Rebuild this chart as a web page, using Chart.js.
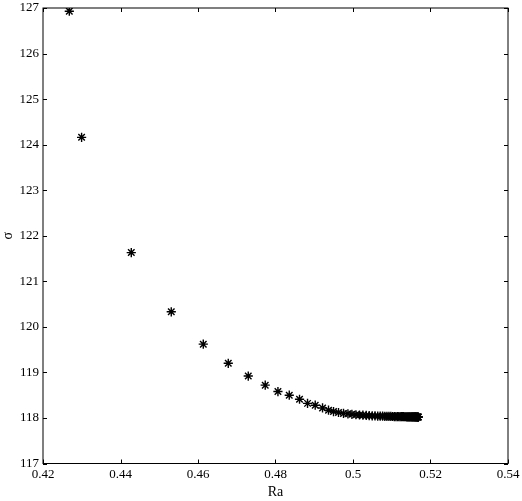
<!DOCTYPE html>
<html>
<head>
<meta charset="utf-8">
<script src="https://cdn.jsdelivr.net/npm/chart.js@4.4.0/dist/chart.umd.min.js"></script>
<style>
  html, body { margin: 0; padding: 0; background: #fff; }
  canvas { display: block; }
</style>
</head>
<body>
<canvas id="chart" width="522" height="501"></canvas>
<script>
// Ra values
const ra = [
  0.42679, 0.42996, 0.44278, 0.4531, 0.46136, 0.46781, 0.47297, 0.47735,
  0.48063, 0.48355, 0.4862, 0.48827, 0.49025, 0.49214, 0.49368, 0.49497,
  0.49626, 0.49755, 0.49869, 0.49972, 0.50075, 0.50168, 0.50256, 0.50341,
  0.50418, 0.50496, 0.50568, 0.50638, 0.50702, 0.50764, 0.50821, 0.50875,
  0.50927, 0.50976, 0.51022, 0.51066, 0.51107, 0.51146, 0.51182, 0.51216,
  0.51247, 0.51278, 0.51306, 0.51334, 0.5136, 0.51386, 0.51409, 0.51432,
  0.51453, 0.51474, 0.51494, 0.51512, 0.5153, 0.51546, 0.51561, 0.51577,
  0.5159, 0.51603, 0.51616, 0.51626, 0.51636, 0.51647, 0.51657, 0.51665,
  0.51672, 0.5168, 0.51688
];
// sigma values
const sigma = [
  126.93, 124.16, 121.63, 120.33, 119.62, 119.2, 118.92, 118.72,
  118.58, 118.5, 118.41, 118.32, 118.28, 118.22, 118.17, 118.14,
  118.12, 118.1, 118.09, 118.08, 118.07, 118.065, 118.06, 118.055,
  118.05, 118.047, 118.044, 118.042, 118.04, 118.038, 118.036, 118.035,
  118.034, 118.033, 118.032, 118.031, 118.03, 118.03, 118.029, 118.028,
  118.028, 118.027, 118.027, 118.026, 118.026, 118.025, 118.025, 118.025,
  118.024, 118.024, 118.024, 118.023, 118.023, 118.023, 118.023, 118.022,
  118.022, 118.022, 118.022, 118.022, 118.021, 118.021, 118.021, 118.021,
  118.021, 118.02, 118.02
];
const xTicks = [0.42, 0.44, 0.46, 0.48, 0.5, 0.52, 0.54];
const yTicks = [117, 118, 119, 120, 121, 122, 123, 124, 125, 126, 127];

const points = ra.map((r, i) => ({ x: r, y: sigma[i] }));
const serif = "'Liberation Serif', 'DejaVu Serif', serif";

// frame on all four sides + short inward tick marks
const frame = {
  id: "frame",
  afterDraw(chart) {
    const { ctx, chartArea: a, scales } = chart;
    ctx.save();
    ctx.strokeStyle = "#000";
    ctx.lineWidth = 1;
    ctx.strokeRect(a.left, a.top, a.right - a.left, a.bottom - a.top);
    ctx.beginPath();
    xTicks.forEach((t) => {
      const px = Math.round(scales.x.getPixelForValue(t)) + 0.5;
      ctx.moveTo(px, a.bottom); ctx.lineTo(px, a.bottom - 4);
      ctx.moveTo(px, a.top); ctx.lineTo(px, a.top + 4);
    });
    yTicks.forEach((t) => {
      const py = Math.round(scales.y.getPixelForValue(t)) + 0.5;
      ctx.moveTo(a.left, py); ctx.lineTo(a.left + 4, py);
      ctx.moveTo(a.right, py); ctx.lineTo(a.right - 4, py);
    });
    ctx.stroke();
    ctx.restore();
  },
};

new Chart(document.getElementById("chart"), {
  type: "scatter",
  data: {
    datasets: [
      {
        data: points,
        pointStyle: "star",
        radius: 4.6,
        borderColor: "#000",
        backgroundColor: "#000",
        borderWidth: 1.4,
      },
    ],
  },
  options: {
    responsive: false,
    animation: false,
    layout: { padding: { top: 8, right: 14, left: 0, bottom: 0 } },
    plugins: { legend: { display: false }, tooltip: { enabled: false } },
    scales: {
      x: {
        type: "linear",
        min: 0.42,
        max: 0.54,
        afterBuildTicks: (s) => { s.ticks = xTicks.map((v) => ({ value: v })); },
        afterFit: (s) => { s.height = 37.5; s.paddingLeft = 0; s.paddingRight = 0; },
        grid: { display: false, drawTicks: false },
        border: { display: false },
        ticks: {
          color: "#000",
          padding: 3,
          maxRotation: 0,
          font: { family: serif, size: 13 },
          callback: (v) => String(+Number(v).toFixed(2)),
        },
        title: {
          display: true,
          text: "Ra",
          color: "#000",
          padding: 0,
          font: { family: serif, size: 14 },
        },
      },
      y: {
        type: "linear",
        min: 117,
        max: 127,
        afterBuildTicks: (s) => { s.ticks = yTicks.map((v) => ({ value: v })); },
        afterFit: (s) => { s.width = 43; s.paddingTop = 0; s.paddingBottom = 0; },
        grid: { display: false, drawTicks: false },
        border: { display: false },
        ticks: {
          color: "#000",
          padding: 4,
          font: { family: serif, size: 13 },
          callback: (v) => String(v),
        },
        title: {
          display: true,
          text: "σ",
          color: "#000",
          padding: { top: 0, bottom: 0 },
          font: { family: serif, size: 14 },
        },
      },
    },
  },
  plugins: [frame],
});
</script>
</body>
</html>
